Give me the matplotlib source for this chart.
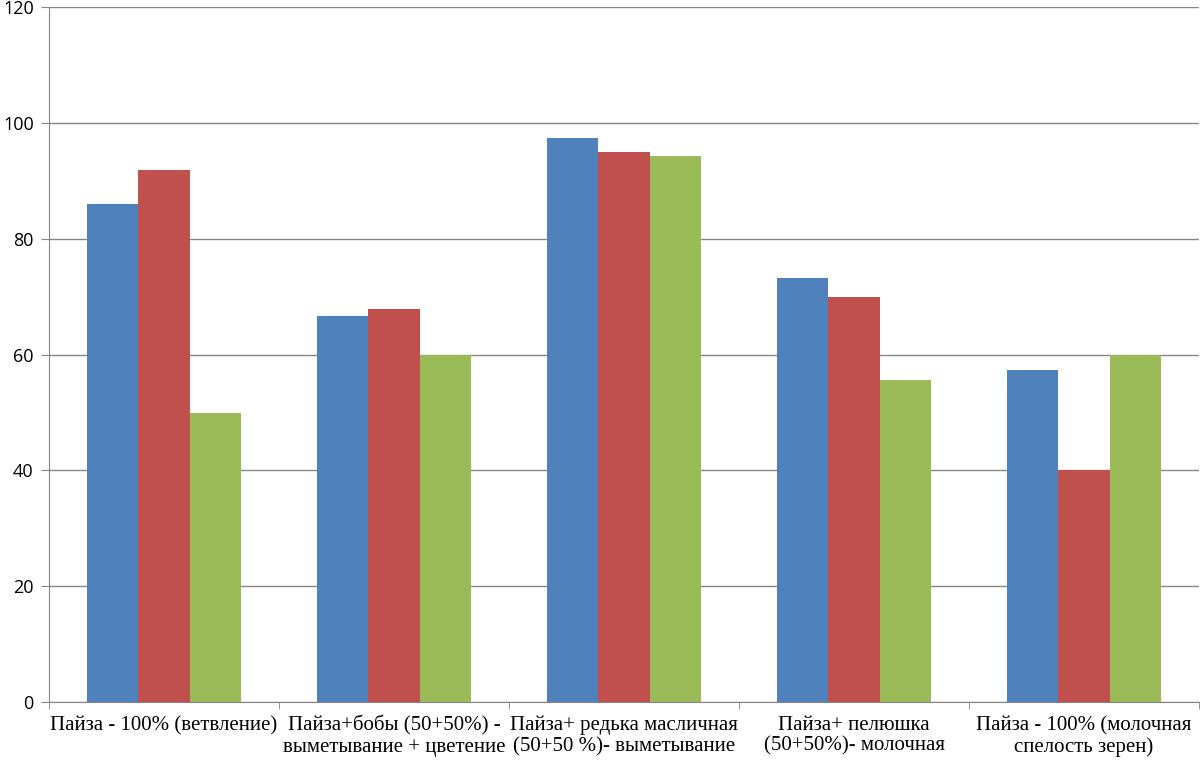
import numpy as np
import matplotlib.pyplot as plt

categories = ['Пайза - 100% (ветвление)',
              'Пайза+бобы (50+50%) -\nвыметывание + цветение',
              'Пайза+ редька масличная\n(50+50 %)- выметывание',
              'Пайза+ пелюшка\n(50+50%)- молочная',
              'Пайза - 100% (молочная\nспелость зерен)']
series1 = [86.0, 66.7, 97.4, 73.2, 57.3]
series2 = [91.9, 67.9, 95.0, 69.9, 40.1]
series3 = [49.9, 59.9, 94.3, 55.6, 59.9]
colors = ['#4F81BD', '#C0504D', '#9BBB59']

fig = plt.figure(figsize=(12.01, 7.63), dpi=100)
ax = fig.add_axes([49 / 1201, 61 / 763, 1150 / 1201, 695 / 763])

x = np.arange(len(categories))
w = 1 / 4.5
for i, vals in enumerate([series1, series2, series3]):
    ax.bar(x + (i - 1) * w, vals, width=w, color=colors[i], zorder=3)

ax.set_xlim(-0.5, len(categories) - 0.5)
ax.set_ylim(0, 120)
ax.set_yticks(range(0, 121, 20))
ax.yaxis.grid(True, color='#868686', linewidth=1, zorder=0)

ax.set_xticks(x)
ax.set_xticklabels(categories)
ax.set_xticks(np.arange(-0.5, len(categories)), minor=True)
ax.tick_params(axis='x', which='major', length=0, pad=10)
ax.tick_params(axis='x', which='minor', length=5, color='#868686')
ax.tick_params(axis='y', length=6, color='#868686', labelsize=13, pad=5)
for lab in ax.get_yticklabels():
    lab.set_fontfamily(['Open Sans', 'DejaVu Sans'])
for lab in ax.get_xticklabels():
    lab.set_fontfamily(['Liberation Serif', 'DejaVu Serif'])
    lab.set_fontsize(15)
    lab.set_linespacing(1.12)
    lab.set_verticalalignment('top')

for s in ['top', 'right']:
    ax.spines[s].set_visible(False)
for s in ['left', 'bottom']:
    ax.spines[s].set_color('#868686')

fig.savefig('out.png', dpi=100)
